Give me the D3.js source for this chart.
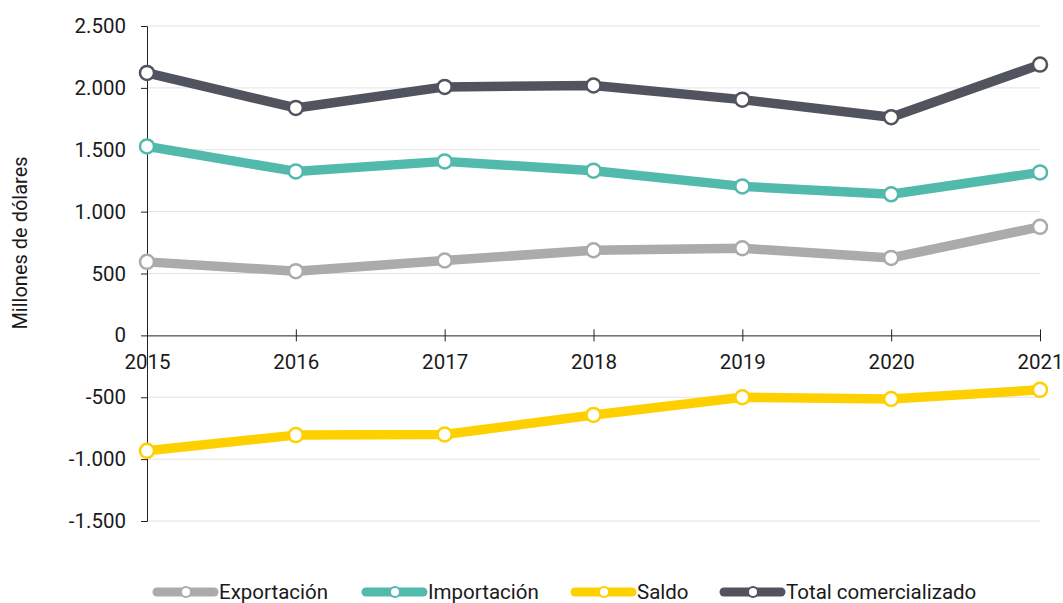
<!DOCTYPE html>
<html>
<head>
<meta charset="utf-8">
<script src="https://cdn.jsdelivr.net/npm/d3@7"></script>
<style>
  body { margin: 0; background: #fff; }
  text { font-family: Roboto, "Noto Sans", sans-serif; fill: #1a1a1a; }
</style>
</head>
<body>
<div id="chart"></div>
<script>
(function () {

  // data (millones de dólares)
  const years = [2015, 2016, 2017, 2018, 2019, 2020, 2021]
  const exportacion = [594, 519, 605, 688, 704, 626, 877]
  const importacion = [1527, 1325, 1406, 1331, 1204, 1140, 1317]
  const saldo = [-933, -806, -801, -643, -500, -514, -440]
  const total = [2121, 1838, 2008, 2019, 1905, 1763, 2188]
  const yTicks = [-1500, -1000, -500, 0, 500, 1000, 1500, 2000, 2500]

  const seriesNames = ['Exportación', 'Importación', 'Saldo', 'Total comercializado']
  const seriesValues = [exportacion, importacion, saldo, total]
  const colors = ['#ababab', '#52b9ad', '#ffd000', '#51545e']

  const width = 1063
  const height = 603
  const margin = { top: 26, right: 23, bottom: 82, left: 147 }

  const svg = d3.select("#chart").append("svg")
      .attr("width", width)
      .attr("height", height)

  const xPositionScale = d3.scalePoint()
    .domain(years)
    .range([margin.left, width - margin.right])

  const yPositionScale = d3.scaleLinear()
    .domain([-1500, 2500])
    .range([height - margin.bottom, margin.top])

  const fmt = d => d3.format(",")(d).replace(/,/g, ".").replace("−", "-")

  // gridlines
  svg.append("g")
    .selectAll("line")
    .data(yTicks.filter(d => d !== 0))
    .join("line")
    .attr("x1", margin.left)
    .attr("x2", width - margin.right)
    .attr("y1", d => yPositionScale(d))
    .attr("y2", d => yPositionScale(d))
    .attr("stroke", "#e2e2e2")
    .attr("stroke-width", 1)

  // y axis
  const yAxis = d3.axisLeft(yPositionScale)
    .tickValues(yTicks)
    .tickSize(6)
    .tickPadding(15)
    .tickFormat(fmt)
  svg.append("g")
    .attr("class", "axis y-axis")
    .attr("transform", "translate(" + margin.left + ",0)")
    .call(yAxis)
    .call(g => g.selectAll("text").attr("font-size", 20.5).attr("font-family", "Roboto"))
    .call(g => g.selectAll(".tick line").attr("stroke", "#222"))
    .call(g => g.select(".domain").attr("stroke", "#222"))

  // x axis across zero
  const xAxis = d3.axisBottom(xPositionScale)
    .tickSizeInner(6)
    .tickSizeOuter(0)
    .tickPadding(13)
  const xg = svg.append("g")
    .attr("class", "axis x-axis")
    .attr("transform", "translate(0," + yPositionScale(0) + ")")
    .call(xAxis)
  xg.selectAll("text").attr("font-size", 20.5).attr("font-family", "Roboto")
  xg.selectAll(".tick line").attr("y1", -6).attr("stroke", "#222")
  xg.select(".domain").attr("stroke", "#222")

  // axis title
  svg.append("text")
    .attr("transform", "translate(27," + 243 + ") rotate(-90)")
    .attr("text-anchor", "middle")
    .attr("font-size", 20)
    .attr("font-family", "'Liberation Sans', Arial, sans-serif")
    .text("Millones de dólares")

  const line = d3.line()
    .x((d, i) => xPositionScale(years[i]))
    .y(d => yPositionScale(d))

  seriesValues.forEach((vals, k) => {
    const g = svg.append("g")
    g.append("path")
      .datum(vals)
      .attr("d", line)
      .attr("fill", "none")
      .attr("stroke", colors[k])
      .attr("stroke-width", 9.5)
      .attr("stroke-linejoin", "round")
    g.selectAll("circle")
      .data(vals)
      .join("circle")
      .attr("cx", (d, i) => xPositionScale(years[i]))
      .attr("cy", d => yPositionScale(d))
      .attr("r", 7)
      .attr("fill", "#fff")
      .attr("stroke", colors[k])
      .attr("stroke-width", 2.5)
  })

  // legend
  const legendX = [157, 366, 575, 724]
  const legend = svg.append("g")
    .attr("transform", "translate(0,592)")

  const items = legend.selectAll("g")
    .data(seriesNames)
    .join("g")
    .attr("transform", (d, i) => "translate(" + legendX[i] + ",0)")

  items.append("line")
    .attr("x1", 0)
    .attr("x2", 57)
    .attr("stroke", (d, i) => colors[i])
    .attr("stroke-width", 9)
    .attr("stroke-linecap", "round")

  items.append("circle")
    .attr("cx", 29)
    .attr("r", 5)
    .attr("fill", "#fff")
    .attr("stroke", (d, i) => colors[i])
    .attr("stroke-width", 2)

  items.append("text")
    .attr("x", 62)
    .attr("dy", "0.35em")
    .attr("font-size", 20.5)
    .text(d => d)

})();
</script>
</body>
</html>
